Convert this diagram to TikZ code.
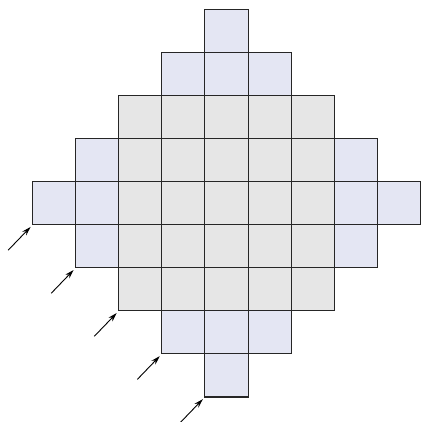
\documentclass[tikz,border=0pt]{standalone}
\usepackage{tikz}
\usetikzlibrary{arrows.meta,calc}
\definecolor{cellblue}{RGB}{228,230,243}
\definecolor{cellgray}{RGB}{230,230,230}
\begin{document}
\begin{tikzpicture}[>={Stealth[length=6pt,width=3.6pt]},scale=1]
\useasboundingbox (-0.76,-0.58) rectangle (9.02,9.22);
\tikzset{cell/.style={draw=black!85,line width=0.7pt}}
% outer ring of the diamond
\foreach \c/\r in {4/0,3/1,4/1,5/1,1/3,7/3,0/4,1/4,7/4,8/4,1/5,7/5,3/7,4/7,5/7,4/8}
  \draw[cell,fill=cellblue] (\c,\r) rectangle ++(1,1);
% centre block
\foreach \c in {2,...,6}
  \foreach \r in {2,...,6}
    \draw[cell,fill=cellgray] (\c,\r) rectangle ++(1,1);
% arrows at the lower left steps
\foreach \c/\r in {0/4,1/3,2/2,3/1,4/0}{
  \coordinate (step\c) at (\c,\r);
  \draw[->,line width=0.6pt] ($(step\c)+(-0.57,-0.59)$) -- ($(step\c)+(-0.05,-0.05)$);
}
\end{tikzpicture}
\end{document}
